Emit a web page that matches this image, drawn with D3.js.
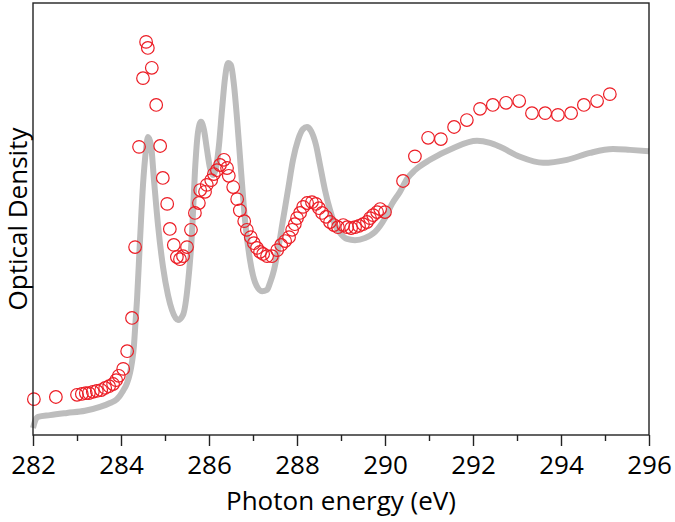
<!DOCTYPE html>
<html>
<head>
<meta charset="utf-8">
<script src="https://cdn.jsdelivr.net/npm/d3@7"></script>
<style>
  body { margin: 0; background: #fff; }
  svg text { font-family: "Open Sans", sans-serif; fill: #000; }
</style>
</head>
<body>
<svg id="chart" width="675" height="522"></svg>
<script>
// photon energy (eV) and optical density (arb. units) of the measured points
var measEnergy = [282.02, 282.52, 283.0, 283.11, 283.2, 283.27, 283.36, 283.45, 283.55, 283.64,
  283.73, 283.82, 283.89, 283.95, 284.05, 284.14, 284.25, 284.32, 284.41, 284.5,
  284.57, 284.61, 284.7, 284.8, 284.89, 284.95, 285.05, 285.11, 285.2, 285.27,
  285.34, 285.41, 285.5, 285.59, 285.68, 285.77, 285.8, 285.91, 285.95, 286.05,
  286.11, 286.18, 286.25, 286.34, 286.41, 286.45, 286.55, 286.64, 286.7, 286.8,
  286.86, 286.95, 287.02, 287.09, 287.16, 287.23, 287.32, 287.43, 287.55, 287.64,
  287.73, 287.82, 287.89, 287.95, 288.0, 288.07, 288.14, 288.23, 288.34, 288.43,
  288.5, 288.57, 288.66, 288.75, 288.84, 288.93, 289.05, 289.14, 289.23, 289.32,
  289.41, 289.5, 289.59, 289.66, 289.73, 289.82, 289.89, 290.0, 290.41, 290.68,
  290.98, 291.27, 291.57, 291.86, 292.16, 292.45, 292.75, 293.05, 293.34, 293.64,
  293.93, 294.23, 294.52, 294.82, 295.11];
var measOD = [0.083, 0.088, 0.093, 0.095, 0.097, 0.097, 0.1, 0.102, 0.104, 0.109,
  0.113, 0.118, 0.127, 0.137, 0.153, 0.194, 0.271, 0.435, 0.667, 0.826,
  0.91, 0.896, 0.85, 0.764, 0.669, 0.595, 0.535, 0.477, 0.44, 0.412,
  0.407, 0.414, 0.435, 0.475, 0.514, 0.537, 0.567, 0.563, 0.579, 0.59,
  0.604, 0.613, 0.625, 0.637, 0.618, 0.6, 0.574, 0.546, 0.52, 0.495,
  0.475, 0.458, 0.444, 0.433, 0.424, 0.419, 0.414, 0.414, 0.428, 0.44,
  0.449, 0.458, 0.475, 0.488, 0.502, 0.514, 0.528, 0.537, 0.539, 0.535,
  0.525, 0.514, 0.505, 0.493, 0.486, 0.481, 0.486, 0.481, 0.479, 0.481,
  0.484, 0.488, 0.493, 0.502, 0.509, 0.516, 0.523, 0.516, 0.588, 0.645,
  0.688, 0.685, 0.713, 0.729, 0.755, 0.764, 0.769, 0.773, 0.745, 0.745,
  0.741, 0.745, 0.764, 0.773, 0.789];

// calculated spectrum
var calcEnergy = [282.0, 282.045, 282.114, 282.386, 282.773, 283.182, 283.523, 283.75, 283.909, 284.045,
  284.136, 284.205, 284.25, 284.295, 284.318, 284.364, 284.432, 284.5, 284.568, 284.614,
  284.682, 284.75, 284.841, 284.955, 285.068, 285.159, 285.295, 285.409, 285.523, 285.614,
  285.682, 285.75, 285.818, 285.886, 285.955, 286.023, 286.091, 286.159, 286.227, 286.295,
  286.364, 286.432, 286.5, 286.568, 286.636, 286.727, 286.818, 286.932, 287.045, 287.205,
  287.318, 287.386, 287.477, 287.568, 287.682, 287.795, 287.909, 288.023, 288.136, 288.227,
  288.318, 288.432, 288.523, 288.636, 288.75, 288.864, 288.977, 289.136, 289.318, 289.545,
  289.773, 290.0, 290.159, 290.341, 290.5, 290.682, 291.023, 291.545, 292.091, 292.386,
  292.614, 293.068, 293.591, 294.136, 294.659, 295.182, 295.568, 296.0];
var calcOD = [0.016, 0.032, 0.042, 0.046, 0.051, 0.056, 0.065, 0.074, 0.083, 0.102,
  0.12, 0.144, 0.169, 0.208, 0.243, 0.313, 0.451, 0.579, 0.66, 0.69,
  0.671, 0.59, 0.486, 0.389, 0.324, 0.289, 0.266, 0.278, 0.352, 0.468,
  0.613, 0.701, 0.725, 0.706, 0.66, 0.618, 0.602, 0.618, 0.671, 0.752,
  0.826, 0.861, 0.856, 0.81, 0.734, 0.613, 0.498, 0.405, 0.354, 0.333,
  0.336, 0.352, 0.382, 0.428, 0.498, 0.567, 0.637, 0.683, 0.708, 0.713,
  0.704, 0.671, 0.625, 0.567, 0.521, 0.486, 0.468, 0.454, 0.451, 0.456,
  0.47, 0.502, 0.535, 0.563, 0.593, 0.613, 0.637, 0.664, 0.681, 0.676,
  0.667, 0.644, 0.63, 0.637, 0.653, 0.662, 0.66, 0.657];

var majorTicks = [282, 284, 286, 288, 290, 292, 294, 296];
var minorTicks = [283, 285, 287, 289, 291, 293, 295];

var svg = d3.select("#chart"),
  margin = { top: 3, right: 26, bottom: 87, left: 33 },
  width = +svg.attr("width") - margin.left - margin.right,
  height = +svg.attr("height") - margin.top - margin.bottom,
  g = svg.append("g").attr("transform", "translate(" + margin.left + "," + margin.top + ")");

var x = d3.scaleLinear().domain([282, 296]).range([0, width]);
var y = d3.scaleLinear().domain([0, 1]).range([height, 0]);

var calc = calcEnergy.map(function (e, i) { return { e: e, od: calcOD[i] }; });
var meas = measEnergy.map(function (e, i) { return { e: e, od: measOD[i] }; });

g.append("path")
  .datum(calc)
  .attr("fill", "none")
  .attr("stroke", "#bdbdbd")
  .attr("stroke-width", 6)
  .attr("stroke-linejoin", "round")
  .attr("d", d3.line()
    .curve(d3.curveMonotoneX)
    .x(function (d) { return x(d.e); })
    .y(function (d) { return y(d.od); }));

g.append("g")
  .selectAll("circle")
  .data(meas)
  .enter().append("circle")
  .attr("cx", function (d) { return x(d.e); })
  .attr("cy", function (d) { return y(d.od); })
  .attr("r", 6.3)
  .attr("fill", "none")
  .attr("stroke", "#ec1c24")
  .attr("stroke-width", 1.2);

// frame
g.append("rect")
  .attr("width", width)
  .attr("height", height)
  .attr("fill", "none")
  .attr("stroke", "#222")
  .attr("stroke-width", 1.4);

var xAxis = g.append("g")
  .attr("transform", "translate(0," + height + ")")
  .call(d3.axisBottom(x).tickValues(majorTicks).tickSize(11).tickFormat(d3.format("d")));
xAxis.select(".domain").remove();
xAxis.selectAll("line").attr("stroke", "#222").attr("stroke-width", 1.4);
xAxis.selectAll("text")
  .attr("y", 21)
  .attr("font-size", 26)
  .style("font-family", "'Open Sans', sans-serif");

g.append("g")
  .attr("transform", "translate(0," + height + ")")
  .call(d3.axisBottom(x).tickValues(minorTicks).tickSize(6).tickFormat(""))
  .call(function (a) { a.select(".domain").remove(); })
  .selectAll("line").attr("stroke", "#222").attr("stroke-width", 1.4);

svg.append("text")
  .attr("x", margin.left + width / 2)
  .attr("y", 510)
  .attr("text-anchor", "middle")
  .attr("font-size", 26)
  .text("Photon energy (eV)");

svg.append("text")
  .attr("transform", "translate(27," + 219 + ") rotate(-90)")
  .attr("text-anchor", "middle")
  .attr("font-size", 26)
  .text("Optical Density");
</script>
</body>
</html>
